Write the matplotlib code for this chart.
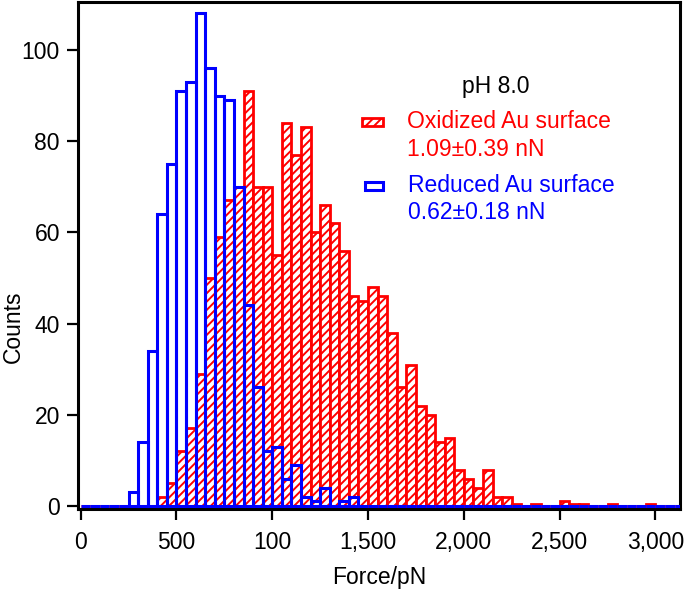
import numpy as np
import matplotlib
matplotlib.use("Agg")
import matplotlib.pyplot as plt
from matplotlib.patches import Rectangle

plt.rcParams['font.family'] = ['Liberation Sans', 'DejaVu Sans']
plt.rcParams['hatch.linewidth'] = 1.4

# Histogram bins (pN), 50 pN wide, left edges
BIN_WIDTH = 50
bin_starts = np.arange(0, 3150, BIN_WIDTH)

# Reduced Au surface counts, by bin start
reduced = {250: 3, 300: 14, 350: 34, 400: 64, 450: 75, 500: 91, 550: 93,
           600: 108, 650: 96, 700: 90, 750: 89, 800: 70, 850: 44, 900: 26,
           950: 12, 1000: 13, 1050: 6, 1100: 9, 1150: 2, 1200: 1, 1250: 4,
           1300: 0, 1350: 1, 1400: 2}

# Oxidized Au surface counts, by bin start
oxidized = {400: 2, 450: 5, 500: 12, 550: 17, 600: 29, 650: 50, 700: 59,
            750: 67, 800: 70, 850: 91, 900: 70, 950: 70, 1000: 55, 1050: 84,
            1100: 77, 1150: 83, 1200: 60, 1250: 66, 1300: 62, 1350: 56,
            1400: 46, 1450: 45, 1500: 48, 1550: 46, 1600: 38, 1650: 26,
            1700: 31, 1750: 22, 1800: 20, 1850: 14, 1900: 15, 1950: 8,
            2000: 6, 2050: 4, 2100: 8, 2150: 2, 2200: 2, 2250: 0.4,
            2350: 0.4, 2500: 1, 2550: 0.4, 2600: 0.4, 2750: 0.4, 2950: 0.4}

reduced_counts = np.array([reduced.get(b, 0) for b in bin_starts])
oxidized_counts = np.array([oxidized.get(b, 0) for b in bin_starts])

x_ticks = [0, 500, 1000, 1500, 2000, 2500, 3000]
x_tick_labels = ['0', '500', '100', '1,500', '2,000', '2,500', '3,000']
y_ticks = [0, 20, 40, 60, 80, 100]

RED = '#ff0000'
BLUE = '#0000ff'
FS = 16.5

fig = plt.figure(figsize=(6.85, 5.92), dpi=100)
ax = fig.add_axes([78 / 685, 1 - 509 / 592, 602 / 685, 507 / 592])

ax.bar(bin_starts, oxidized_counts, width=BIN_WIDTH, align='edge',
       color='white', edgecolor=RED, hatch='////', linewidth=2, zorder=2)
ax.bar(bin_starts, reduced_counts, width=BIN_WIDTH, align='edge',
       fill=False, edgecolor=BLUE, linewidth=2.2, zorder=3)

ax.set_xlim(-14, 3128)
ax.set_ylim(-0.65, 110.5)
ax.set_xticks(x_ticks)
ax.set_xticklabels(x_tick_labels)
ax.set_yticks(y_ticks)
ax.tick_params(axis='both', direction='out', length=8, width=1.6,
               labelsize=FS)
ax.tick_params(axis='x', pad=8)
ax.tick_params(axis='y', pad=5)
for s in ax.spines.values():
    s.set_linewidth(2.2)

ax.set_xlabel('Force/pN', fontsize=FS)
ax.xaxis.set_label_coords(0.5, -0.112)
ax.set_ylabel('Counts', fontsize=FS)
ax.yaxis.set_label_coords(-0.088, 0.36)

# legend drawn by hand, in axes fractions
ax.text(0.694, 0.834, 'pH 8.0', transform=ax.transAxes, fontsize=FS,
        ha='center', va='center', color='black')

ax.add_patch(Rectangle((0.472, 0.755), 0.035, 0.016, transform=ax.transAxes,
                       facecolor='white', edgecolor=RED, hatch='////',
                       linewidth=2, zorder=5))
ax.text(0.547, 0.786, 'Oxidized Au surface\n1.09\u00b10.39 nN',
        transform=ax.transAxes, fontsize=FS, color=RED, ha='left',
        va='top', linespacing=1.25, zorder=5)

ax.add_patch(Rectangle((0.477, 0.629), 0.030, 0.016, transform=ax.transAxes,
                       facecolor='none', edgecolor=BLUE, linewidth=2.2,
                       zorder=5))
ax.text(0.548, 0.661, 'Reduced Au surface\n0.62\u00b10.18 nN',
        transform=ax.transAxes, fontsize=FS, color=BLUE, ha='left',
        va='top', linespacing=1.25, zorder=5)

fig.savefig('out.png', dpi=100)
